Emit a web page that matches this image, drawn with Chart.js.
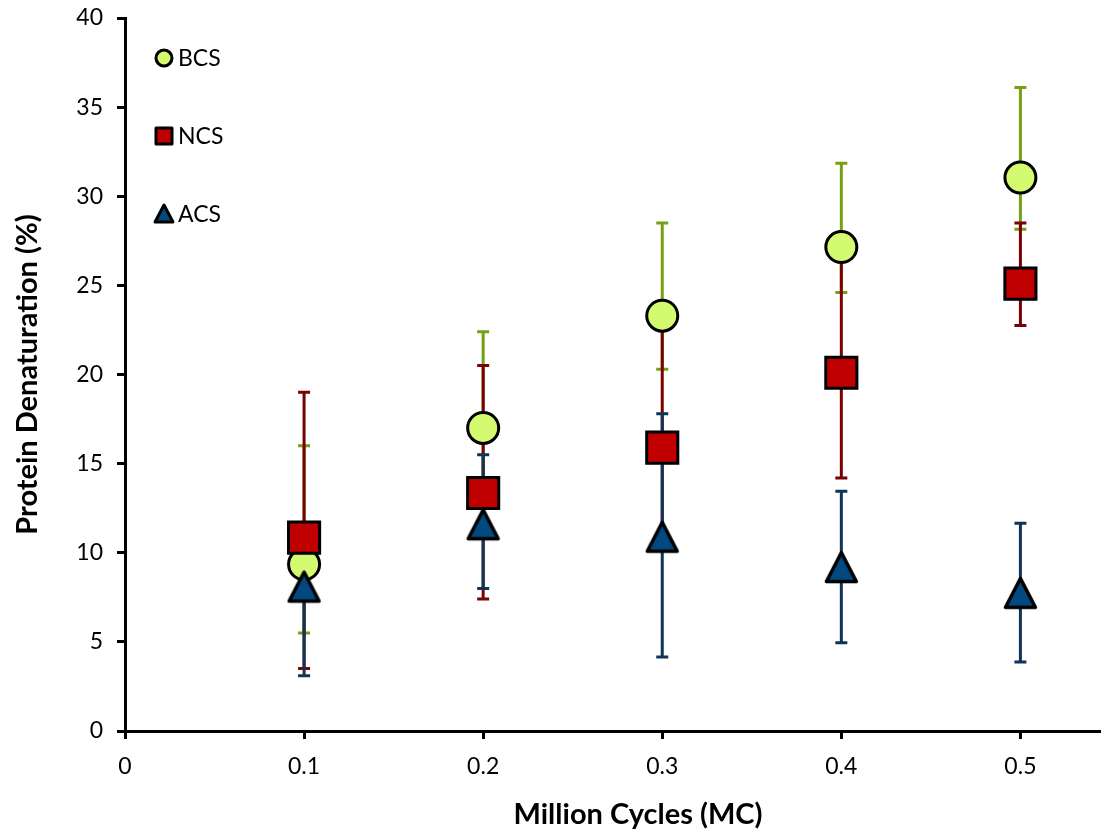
<!DOCTYPE html>
<html>
<head>
<meta charset="utf-8">
<script src="https://cdn.jsdelivr.net/npm/chart.js@4.4.1/dist/chart.umd.min.js"></script>
<style>
  body { margin: 0; background: #fff; }
  canvas { display: block; }
</style>
</head>
<body>
<canvas id="chart" width="1101" height="833"></canvas>
<script>
// values (mean, top and bottom of each error bar)
const cycles = [0.1, 0.2, 0.3, 0.4, 0.5];

const bcs = [9.35, 17.0, 23.3, 27.15, 31.05];
const bcsHigh = [16.0, 22.4, 28.5, 31.85, 36.1];
const bcsLow = [5.5, 13.0, 20.3, 24.6, 28.15];

const ncs = [10.85, 13.35, 15.9, 20.1, 25.1];
const ncsHigh = [19.0, 20.5, 23.0, 26.6, 28.5];
const ncsLow = [3.5, 7.4, 10.5, 14.2, 22.75];

const acs = [8.1, 11.6, 10.9, 9.2, 7.75];
const acsHigh = [11.5, 15.5, 17.8, 13.45, 11.65];
const acsLow = [3.1, 8.0, 4.15, 4.95, 3.87];

const yTicks = [0, 5, 10, 15, 20, 25, 30, 35, 40];

const xTitle = 'Million Cycles (MC)';
const yTitle = 'Protein Denaturation (%)';

const FONT = 'Lato, "Open Sans", sans-serif';

// triangle marker centred on its bounding box like the original
function triangleImage(w, h, lw, fill) {
    let c = document.createElement('canvas');
    c.width = w;
    c.height = h;
    let g = c.getContext('2d');
    g.beginPath();
    g.moveTo(w / 2, lw);
    g.lineTo(w - lw, h - lw);
    g.lineTo(lw, h - lw);
    g.closePath();
    g.fillStyle = fill;
    g.fill();
    g.lineJoin = 'round';
    g.lineWidth = lw;
    g.strokeStyle = '#000';
    g.stroke();
    return c;
}

const triBig = triangleImage(37, 36, 3.5, '#02497f');

function pts(ys) {
    return cycles.map((x, i) => ({ x: x, y: ys[i] }));
}

// error bars, drawn under every marker
const errorBars = {
    id: 'errorBars',
    beforeDatasetsDraw(chart) {
        const ctx = chart.ctx;
        const xs = chart.scales.x, ys = chart.scales.y;
        const sets = [
            { hi: bcsHigh, lo: bcsLow, color: '#76a012' },
            { hi: ncsHigh, lo: ncsLow, color: '#7b0000' },
            { hi: acsHigh, lo: acsLow, color: '#0e3558' }
        ];
        ctx.save();
        ctx.lineWidth = 3;
        sets.forEach(s => {
            ctx.strokeStyle = s.color;
            cycles.forEach((c, i) => {
                let px = xs.getPixelForValue(c);
                let top = ys.getPixelForValue(s.hi[i]);
                let bot = ys.getPixelForValue(s.lo[i]);
                ctx.beginPath();
                ctx.moveTo(px, top);
                ctx.lineTo(px, bot);
                ctx.moveTo(px - 6, top);
                ctx.lineTo(px + 6, top);
                ctx.moveTo(px - 6, bot);
                ctx.lineTo(px + 6, bot);
                ctx.stroke();
            });
        });
        ctx.restore();
    }
};

// legend stacked in the top-left corner of the plot, x title a bit right of centre
const cornerLegend = {
    id: 'cornerLegend',
    afterDraw(chart) {
        const ctx = chart.ctx;
        const area = chart.chartArea;
        const mx = area.left + 39, tx = area.left + 53;
        ctx.save();
        ctx.lineWidth = 3;
        ctx.strokeStyle = '#000';
        ctx.font = '23px ' + FONT;
        ctx.fillStyle = '#000';
        ctx.textBaseline = 'middle';
        chart.data.datasets.forEach((ds, i) => {
            let y = area.top + 40 + i * 78;
            ctx.beginPath();
            if (ds.pointStyle === 'circle') {
                ctx.arc(mx, y, 8, 0, Math.PI * 2);
            } else if (ds.pointStyle === 'rect') {
                ctx.rect(mx - 8, y - 8, 16, 16);
            } else {
                ctx.moveTo(mx, y - 9);
                ctx.lineTo(mx + 9, y + 8);
                ctx.lineTo(mx - 9, y + 8);
                ctx.closePath();
            }
            ctx.fillStyle = ds.backgroundColor;
            ctx.fill();
            ctx.lineJoin = 'round';
            ctx.stroke();
            ctx.fillStyle = '#000';
            ctx.fillText(ds.label, tx, y + 1);
        });

        ctx.font = 'bold 29px ' + FONT;
        ctx.textAlign = 'center';
        ctx.fillText(xTitle, (area.left + area.right) / 2 + 25, area.bottom + 84);
        ctx.restore();
    }
};

new Chart(document.getElementById('chart').getContext('2d'), {
    type: 'scatter',
    data: {
        datasets: [{
            label: 'BCS',
            data: pts(bcs),
            pointStyle: 'circle',
            pointRadius: 15.5,
            backgroundColor: '#d4fa70',
            borderColor: '#000',
            borderWidth: 3,
            order: 3
        }, {
            label: 'NCS',
            data: pts(ncs),
            pointStyle: 'rect',
            pointRadius: 22,
            backgroundColor: '#c00000',
            borderColor: '#000',
            borderWidth: 3,
            order: 2
        }, {
            label: 'ACS',
            data: pts(acs),
            pointStyle: triBig,
            pointRadius: 18,
            backgroundColor: '#02497f',
            borderColor: '#000',
            borderWidth: 3,
            order: 1
        }]
    },
    options: {
        responsive: false,
        animation: false,
        events: [],
        layout: { autoPadding: false, padding: { top: 18, right: 0, left: 0, bottom: 0 } },
        plugins: {
            legend: { display: false },
            tooltip: { enabled: false }
        },
        scales: {
            x: {
                type: 'linear',
                min: 0,
                max: 0.545,
                afterFit: s => { s.height = 102; s.paddingLeft = 0; s.paddingRight = 0; },
                border: { display: true, color: '#000', width: 3 },
                grid: { drawOnChartArea: false, drawTicks: true, tickLength: 8, tickWidth: 3, tickColor: '#000' },
                ticks: {
                    stepSize: 0.1,
                    includeBounds: false,
                    color: '#000',
                    padding: 14,
                    font: { family: FONT, size: 23 },
                    maxRotation: 0
                }
            },
            y: {
                min: yTicks[0],
                max: yTicks[yTicks.length - 1],
                afterFit: s => { s.width = 125; s.paddingTop = 0; s.paddingBottom = 0; },
                afterBuildTicks: s => { s.ticks = yTicks.map(v => ({ value: v })); },
                border: { display: true, color: '#000', width: 3 },
                grid: { drawOnChartArea: false, drawTicks: true, tickLength: 8, tickWidth: 3, tickColor: '#000' },
                ticks: {
                    color: '#000',
                    padding: 14,
                    font: { family: FONT, size: 23 }
                },
                title: {
                    display: true,
                    text: yTitle,
                    color: '#000',
                    font: { family: FONT, size: 29, weight: 'bold' },
                    padding: { top: 10, bottom: 0 }
                }
            }
        }
    },
    plugins: [errorBars, cornerLegend]
});
</script>
</body>
</html>
